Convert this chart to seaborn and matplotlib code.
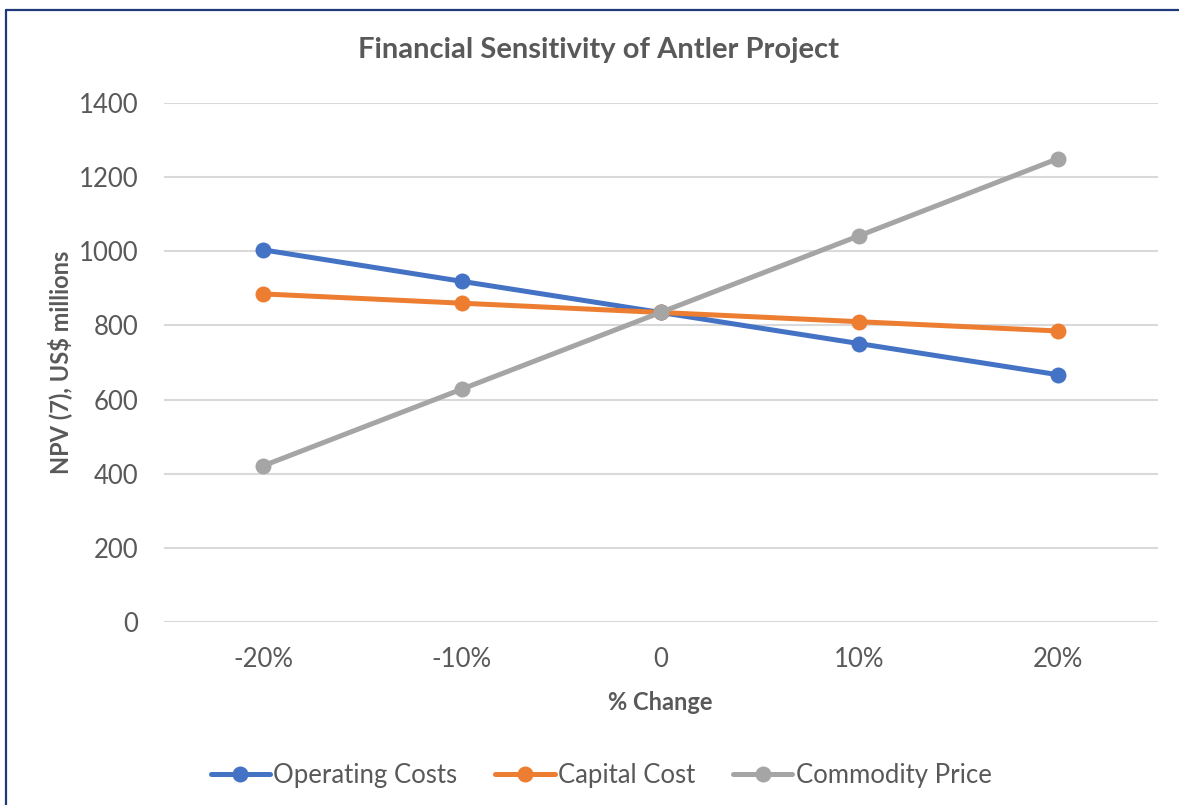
import matplotlib
matplotlib.use("Agg")
import matplotlib.pyplot as plt
from matplotlib.lines import Line2D
import seaborn as sns
import pandas as pd

categories = ["-20%", "-10%", "0", "10%", "20%"]
operating_costs = [1004, 919, 835, 751, 667]
capital_cost = [885, 860, 835, 810, 785]
commodity_price = [421, 628, 835, 1042, 1250]
series_names = ["Operating Costs", "Capital Cost", "Commodity Price"]
y_ticks = [0, 200, 400, 600, 800, 1000, 1200, 1400]

rows = []
for name, vals in zip(series_names, [operating_costs, capital_cost, commodity_price]):
    for c, v in zip(categories, vals):
        rows.append({"change": c, "npv": v, "series": name})
df = pd.DataFrame(rows)

sns.set_theme(style="white")
plt.rcParams["font.family"] = ["Lato", "DejaVu Sans"]
text_color = "#595959"

fig = plt.figure(figsize=(11.79, 8.05), dpi=100)
ax = fig.add_axes([163.5 / 1179, 1 - 622 / 805, (1157.5 - 163.5) / 1179, (622 - 103) / 805])

palette = {"Operating Costs": "#4472C4", "Capital Cost": "#ED7D31", "Commodity Price": "#A5A5A5"}
sns.lineplot(data=df, x="change", y="npv", hue="series", palette=palette, marker="o",
             markersize=11.5, linewidth=3.6, markeredgewidth=0, sort=False, ax=ax, zorder=3)

ax.set_xlim(-0.5, 4.5)
ax.set_ylim(0, 1400)
ax.set_yticks(y_ticks)
ax.yaxis.grid(True, color="#D9D9D9", linewidth=1.5, zorder=0)
ax.xaxis.grid(False)
for s in ax.spines.values():
    s.set_visible(False)
ax.tick_params(axis="y", length=0, pad=18, labelsize=18.5, labelcolor=text_color)
ax.tick_params(axis="x", length=0, pad=18, labelsize=18.5, labelcolor=text_color)

ax.set_xlabel("% Change", fontsize=17, fontweight="bold", color=text_color, va="center")
ax.set_ylabel("NPV (7), US$ millions", fontsize=17, fontweight="bold", color=text_color, va="center")
ax.xaxis.set_label_coords(0.5, (622 - 702) / 519)
ax.yaxis.set_label_coords((60 - 163.5) / 994, 0.5)

fig.text(598 / 1179, 1 - 50 / 805, "Financial Sensitivity of Antler Project", ha="center", va="center",
         fontsize=21, fontweight="bold", color=text_color)

handles, labels = ax.get_legend_handles_labels()
ax.get_legend().remove()
fig.legend(handles, labels, loc="center", bbox_to_anchor=(601 / 1179, 1 - 775 / 805), ncol=3, frameon=False,
           fontsize=18.5, labelcolor=text_color, handlelength=2.3, handletextpad=0.12, columnspacing=1.5,
           borderaxespad=0)

border = "#1F3A78"
fig.add_artist(Line2D([6 / 1179, 6 / 1179], [0, 1 - 10 / 805], color=border, linewidth=1.6,
                      transform=fig.transFigure))
fig.add_artist(Line2D([6 / 1179, 1], [1 - 10 / 805, 1 - 10 / 805], color=border, linewidth=1.6,
                      transform=fig.transFigure))

fig.savefig("out.png", dpi=100, facecolor="white")
